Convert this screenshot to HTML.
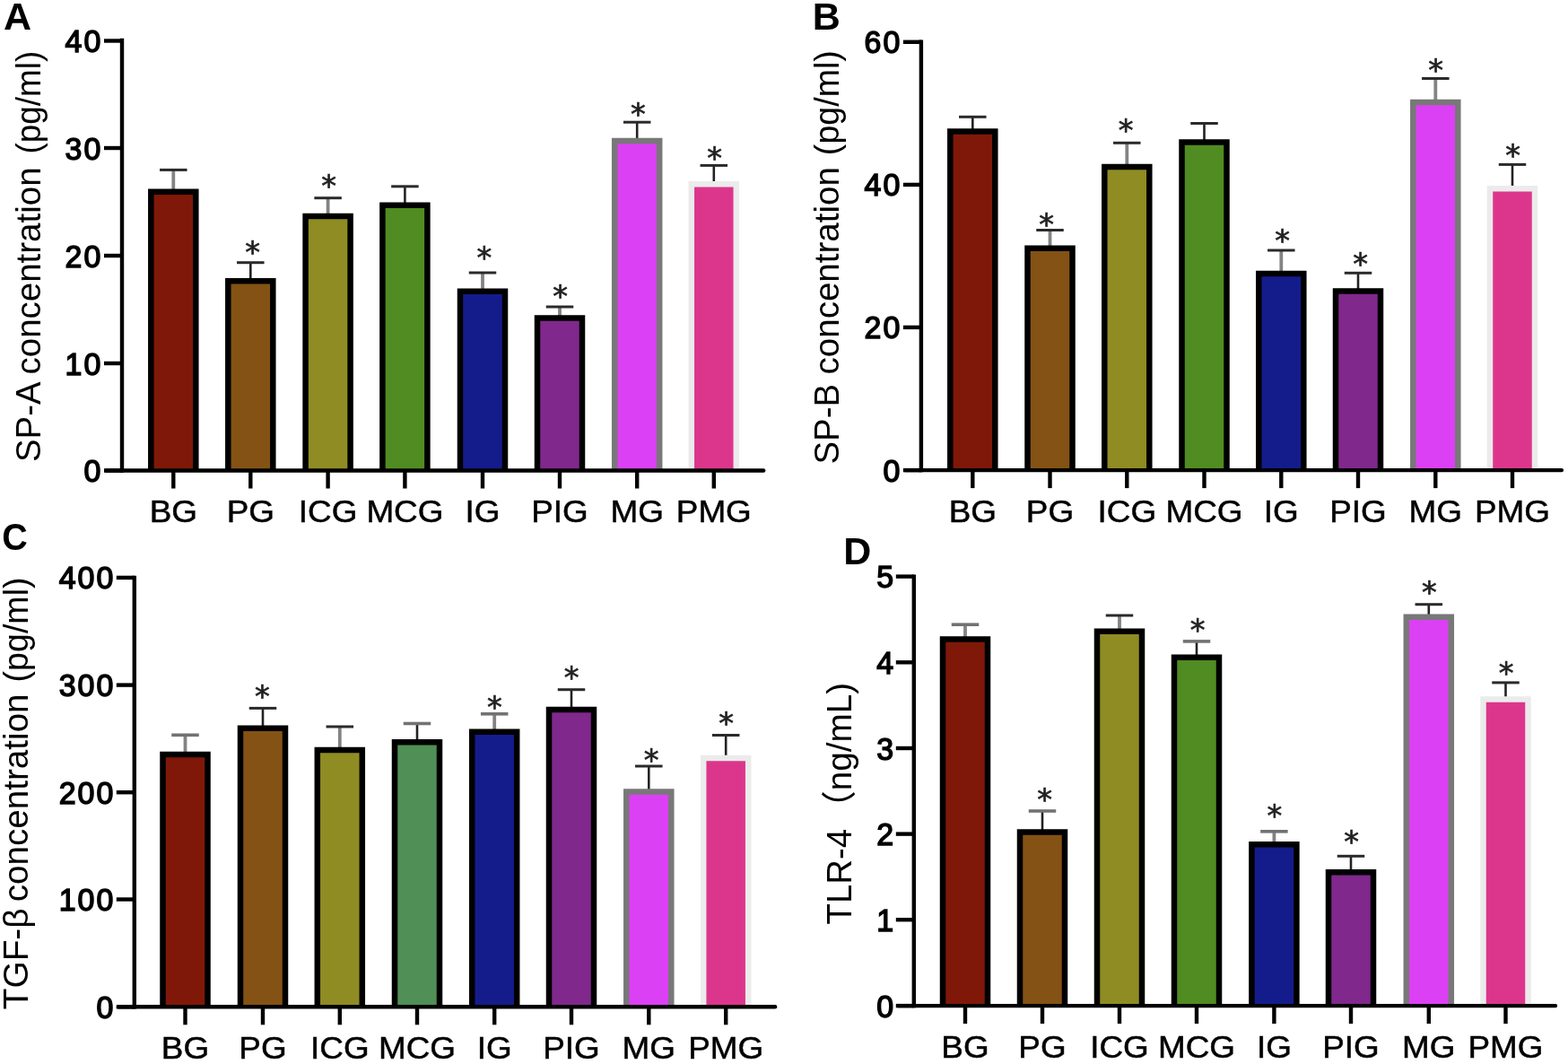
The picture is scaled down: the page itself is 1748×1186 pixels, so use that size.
<!DOCTYPE html>
<html><head><meta charset="utf-8"><title>Figure</title>
<style>
html,body{margin:0;padding:0;background:#fff;}
svg{display:block;}
#fig{width:1748px;height:1186px;overflow:hidden;}
text{font-family:"Liberation Sans",Arial,Helvetica,"Noto Sans CJK SC",sans-serif;}
.tl{font-size:35px;font-weight:normal;letter-spacing:2px;text-anchor:end;fill:#000;stroke:#000;stroke-width:1.5px;}
.xl{font-size:36px;text-anchor:middle;fill:#000;stroke:#000;stroke-width:0.5px;}
.yl{font-size:39px;fill:#000;}
.lt{font-size:43px;font-weight:bold;fill:#000;}
.st{font-size:33.5px;text-anchor:middle;fill:#222;stroke:#222;stroke-width:0.7px;font-family:"DejaVu Sans",sans-serif;}
</style></head>
<body>
<div id="fig">
<svg width="1748" height="1186" viewBox="0 0 1748 1186">
<g>
<rect width="1748" height="1186" fill="#fff"/>
<line x1="193.3" y1="212.4" x2="193.3" y2="189.4" stroke="#838383" stroke-width="3.8"/>
<line x1="178.05" y1="189.4" x2="208.55" y2="189.4" stroke="#2a2a2a" stroke-width="3"/>
<rect x="168.3" y="213.65" width="50" height="310.85" fill="#7f1808"/>
<path d="M168.3 524.5V213.65H218.3V524.5" fill="none" stroke="#000" stroke-width="6.5"/>
<line x1="279.3" y1="312.1" x2="279.3" y2="292.7" stroke="#222" stroke-width="2.6"/>
<line x1="264.05" y1="292.7" x2="294.55" y2="292.7" stroke="#2a2a2a" stroke-width="3"/>
<rect x="254.3" y="313.35" width="50" height="211.15" fill="#845214"/>
<path d="M254.3 524.5V313.35H304.3V524.5" fill="none" stroke="#000" stroke-width="6.5"/>
<text x="281.5" y="292.89" class="st">*</text>
<line x1="365.6" y1="239.8" x2="365.6" y2="220.7" stroke="#838383" stroke-width="3.8"/>
<line x1="350.35" y1="220.7" x2="380.85" y2="220.7" stroke="#2a2a2a" stroke-width="3"/>
<rect x="340.6" y="241.05" width="50" height="283.45" fill="#8f8c24"/>
<path d="M340.6 524.5V241.05H390.6V524.5" fill="none" stroke="#000" stroke-width="6.5"/>
<text x="366.5" y="218.69" class="st">*</text>
<line x1="451.4" y1="227.5" x2="451.4" y2="207.8" stroke="#222" stroke-width="2.6"/>
<line x1="436.15" y1="207.8" x2="466.65" y2="207.8" stroke="#2a2a2a" stroke-width="3"/>
<rect x="426.4" y="228.75" width="50" height="295.75" fill="#508c22"/>
<path d="M426.4 524.5V228.75H476.4V524.5" fill="none" stroke="#000" stroke-width="6.5"/>
<line x1="538" y1="323.5" x2="538" y2="304" stroke="#838383" stroke-width="3.8"/>
<line x1="522.75" y1="304" x2="553.25" y2="304" stroke="#2a2a2a" stroke-width="3"/>
<rect x="513" y="324.75" width="50" height="199.75" fill="#141c8c"/>
<path d="M513 524.5V324.75H563V524.5" fill="none" stroke="#000" stroke-width="6.5"/>
<text x="539.8" y="298.89" class="st">*</text>
<line x1="624" y1="353.3" x2="624" y2="342" stroke="#838383" stroke-width="3.8"/>
<line x1="608.75" y1="342" x2="639.25" y2="342" stroke="#2a2a2a" stroke-width="3"/>
<rect x="599" y="354.55" width="50" height="169.95" fill="#80288c"/>
<path d="M599 524.5V354.55H649V524.5" fill="none" stroke="#000" stroke-width="6.5"/>
<text x="624.5" y="342.39" class="st">*</text>
<line x1="710.2" y1="155.8" x2="710.2" y2="136.2" stroke="#222" stroke-width="2.6"/>
<line x1="694.95" y1="136.2" x2="725.45" y2="136.2" stroke="#2a2a2a" stroke-width="3"/>
<rect x="685.2" y="157.05" width="50" height="367.45" fill="#dc40f4"/>
<path d="M685.2 524.5V157.05H735.2V524.5" fill="none" stroke="#787878" stroke-width="6.5"/>
<text x="711.4" y="139.39" class="st">*</text>
<line x1="795.8" y1="204" x2="795.8" y2="184.4" stroke="#222" stroke-width="2.6"/>
<line x1="780.55" y1="184.4" x2="811.05" y2="184.4" stroke="#2a2a2a" stroke-width="3"/>
<rect x="770.8" y="205.25" width="50" height="319.25" fill="#dc368c"/>
<path d="M770.8 524.5V205.25H820.8V524.5" fill="none" stroke="#ebebeb" stroke-width="6.5"/>
<text x="796.5" y="187.69" class="st">*</text>
<line x1="136" y1="42.8" x2="136" y2="526.7" stroke="#000" stroke-width="4.4"/>
<line x1="118.2" y1="524.5" x2="851.2" y2="524.5" stroke="#000" stroke-width="4.4" stroke-linecap="round"/>
<line x1="116" y1="524.5" x2="136" y2="524.5" stroke="#000" stroke-width="4.4"/>
<text transform="translate(114.2 537) scale(0.97 1)" class="tl">0</text>
<line x1="116" y1="405" x2="136" y2="405" stroke="#000" stroke-width="4.4"/>
<text transform="translate(114.2 417.5) scale(0.97 1)" class="tl">10</text>
<line x1="116" y1="285" x2="136" y2="285" stroke="#000" stroke-width="4.4"/>
<text transform="translate(114.2 297.5) scale(0.97 1)" class="tl">20</text>
<line x1="116" y1="165" x2="136" y2="165" stroke="#000" stroke-width="4.4"/>
<text transform="translate(114.2 177.5) scale(0.97 1)" class="tl">30</text>
<line x1="116" y1="45.5" x2="136" y2="45.5" stroke="#000" stroke-width="4.4"/>
<text transform="translate(114.2 58) scale(0.97 1)" class="tl">40</text>
<line x1="193.3" y1="524.5" x2="193.3" y2="544.5" stroke="#000" stroke-width="4.4"/>
<text transform="translate(193.3 582) scale(1.025 1)" class="xl">BG</text>
<line x1="279.3" y1="524.5" x2="279.3" y2="544.5" stroke="#000" stroke-width="4.4"/>
<text transform="translate(279.3 582) scale(1.025 1)" class="xl">PG</text>
<line x1="365.6" y1="524.5" x2="365.6" y2="544.5" stroke="#000" stroke-width="4.4"/>
<text transform="translate(365.6 582) scale(1.025 1)" class="xl">ICG</text>
<line x1="451.4" y1="524.5" x2="451.4" y2="544.5" stroke="#000" stroke-width="4.4"/>
<text transform="translate(451.4 582) scale(1.025 1)" class="xl">MCG</text>
<line x1="538" y1="524.5" x2="538" y2="544.5" stroke="#000" stroke-width="4.4"/>
<text transform="translate(538 582) scale(1.025 1)" class="xl">IG</text>
<line x1="624" y1="524.5" x2="624" y2="544.5" stroke="#000" stroke-width="4.4"/>
<text transform="translate(624 582) scale(1.025 1)" class="xl">PIG</text>
<line x1="710.2" y1="524.5" x2="710.2" y2="544.5" stroke="#000" stroke-width="4.4"/>
<text transform="translate(710.2 582) scale(1.025 1)" class="xl">MG</text>
<line x1="795.8" y1="524.5" x2="795.8" y2="544.5" stroke="#000" stroke-width="4.4"/>
<text transform="translate(795.8 582) scale(1.025 1)" class="xl">PMG</text>
<text transform="translate(44.6 514.97) rotate(-90) scale(0.9831 1)" class="yl">SP-A</text>
<text transform="translate(44.6 417.47) rotate(-90) scale(0.9870 1)" class="yl">concentration</text>
<text transform="translate(44.6 171.59) rotate(-90) scale(0.9462 1)" class="yl">(pg/ml)</text>
<text transform="translate(4 33) scale(1 1)" class="lt">A</text>
<line x1="1084.3" y1="145.2" x2="1084.3" y2="130.3" stroke="#222" stroke-width="2.6"/>
<line x1="1069.05" y1="130.3" x2="1099.55" y2="130.3" stroke="#2a2a2a" stroke-width="3"/>
<rect x="1059.3" y="146.45" width="50" height="377.65" fill="#7f1808"/>
<path d="M1059.3 524.1V146.45H1109.3V524.1" fill="none" stroke="#000" stroke-width="6.5"/>
<line x1="1170.5" y1="275.4" x2="1170.5" y2="256.5" stroke="#838383" stroke-width="3.8"/>
<line x1="1155.25" y1="256.5" x2="1185.75" y2="256.5" stroke="#2a2a2a" stroke-width="3"/>
<rect x="1145.5" y="276.65" width="50" height="247.45" fill="#845214"/>
<path d="M1145.5 524.1V276.65H1195.5V524.1" fill="none" stroke="#000" stroke-width="6.5"/>
<text x="1166.5" y="262.09" class="st">*</text>
<line x1="1256.3" y1="184.8" x2="1256.3" y2="159.3" stroke="#838383" stroke-width="3.8"/>
<line x1="1241.05" y1="159.3" x2="1271.55" y2="159.3" stroke="#2a2a2a" stroke-width="3"/>
<rect x="1231.3" y="186.05" width="50" height="338.05" fill="#8f8c24"/>
<path d="M1231.3 524.1V186.05H1281.3V524.1" fill="none" stroke="#000" stroke-width="6.5"/>
<text x="1255" y="157.09" class="st">*</text>
<line x1="1342.5" y1="157.2" x2="1342.5" y2="137.5" stroke="#222" stroke-width="2.6"/>
<line x1="1327.25" y1="137.5" x2="1357.75" y2="137.5" stroke="#2a2a2a" stroke-width="3"/>
<rect x="1317.5" y="158.45" width="50" height="365.65" fill="#508c22"/>
<path d="M1317.5 524.1V158.45H1367.5V524.1" fill="none" stroke="#000" stroke-width="6.5"/>
<line x1="1428.3" y1="303.8" x2="1428.3" y2="279" stroke="#838383" stroke-width="3.8"/>
<line x1="1413.05" y1="279" x2="1443.55" y2="279" stroke="#2a2a2a" stroke-width="3"/>
<rect x="1403.3" y="305.05" width="50" height="219.05" fill="#141c8c"/>
<path d="M1403.3 524.1V305.05H1453.3V524.1" fill="none" stroke="#000" stroke-width="6.5"/>
<text x="1429.5" y="280.09" class="st">*</text>
<line x1="1514" y1="323.2" x2="1514" y2="304.3" stroke="#222" stroke-width="2.6"/>
<line x1="1498.75" y1="304.3" x2="1529.25" y2="304.3" stroke="#2a2a2a" stroke-width="3"/>
<rect x="1489" y="324.45" width="50" height="199.65" fill="#80288c"/>
<path d="M1489 524.1V324.45H1539V524.1" fill="none" stroke="#000" stroke-width="6.5"/>
<text x="1516.6" y="306.49" class="st">*</text>
<line x1="1600.3" y1="112.8" x2="1600.3" y2="87.5" stroke="#838383" stroke-width="3.8"/>
<line x1="1585.05" y1="87.5" x2="1615.55" y2="87.5" stroke="#2a2a2a" stroke-width="3"/>
<rect x="1575.3" y="114.05" width="50" height="410.05" fill="#dc40f4"/>
<path d="M1575.3 524.1V114.05H1625.3V524.1" fill="none" stroke="#787878" stroke-width="6.5"/>
<text x="1600.5" y="89.89" class="st">*</text>
<line x1="1686" y1="209" x2="1686" y2="183.4" stroke="#222" stroke-width="2.6"/>
<line x1="1670.75" y1="183.4" x2="1701.25" y2="183.4" stroke="#2a2a2a" stroke-width="3"/>
<rect x="1661" y="210.25" width="50" height="313.85" fill="#dc368c"/>
<path d="M1661 524.1V210.25H1711V524.1" fill="none" stroke="#ebebeb" stroke-width="6.5"/>
<text x="1686.5" y="185.39" class="st">*</text>
<line x1="1026.9" y1="44.6" x2="1026.9" y2="526.3" stroke="#000" stroke-width="4.4"/>
<line x1="1009.1" y1="524.1" x2="1740.9" y2="524.1" stroke="#000" stroke-width="4.4" stroke-linecap="round"/>
<line x1="1006.9" y1="524.1" x2="1026.9" y2="524.1" stroke="#000" stroke-width="4.4"/>
<text transform="translate(1005.2 536.6) scale(0.97 1)" class="tl">0</text>
<line x1="1006.9" y1="364.9" x2="1026.9" y2="364.9" stroke="#000" stroke-width="4.4"/>
<text transform="translate(1005.2 377.4) scale(0.97 1)" class="tl">20</text>
<line x1="1006.9" y1="205.9" x2="1026.9" y2="205.9" stroke="#000" stroke-width="4.4"/>
<text transform="translate(1005.2 218.4) scale(0.97 1)" class="tl">40</text>
<line x1="1006.9" y1="46.8" x2="1026.9" y2="46.8" stroke="#000" stroke-width="4.4"/>
<text transform="translate(1005.2 59.3) scale(0.97 1)" class="tl">60</text>
<line x1="1084.3" y1="524.1" x2="1084.3" y2="544.1" stroke="#000" stroke-width="4.4"/>
<text transform="translate(1084.3 581.6) scale(1.025 1)" class="xl">BG</text>
<line x1="1170.5" y1="524.1" x2="1170.5" y2="544.1" stroke="#000" stroke-width="4.4"/>
<text transform="translate(1170.5 581.6) scale(1.025 1)" class="xl">PG</text>
<line x1="1256.3" y1="524.1" x2="1256.3" y2="544.1" stroke="#000" stroke-width="4.4"/>
<text transform="translate(1256.3 581.6) scale(1.025 1)" class="xl">ICG</text>
<line x1="1342.5" y1="524.1" x2="1342.5" y2="544.1" stroke="#000" stroke-width="4.4"/>
<text transform="translate(1342.5 581.6) scale(1.025 1)" class="xl">MCG</text>
<line x1="1428.3" y1="524.1" x2="1428.3" y2="544.1" stroke="#000" stroke-width="4.4"/>
<text transform="translate(1428.3 581.6) scale(1.025 1)" class="xl">IG</text>
<line x1="1514" y1="524.1" x2="1514" y2="544.1" stroke="#000" stroke-width="4.4"/>
<text transform="translate(1514 581.6) scale(1.025 1)" class="xl">PIG</text>
<line x1="1600.3" y1="524.1" x2="1600.3" y2="544.1" stroke="#000" stroke-width="4.4"/>
<text transform="translate(1600.3 581.6) scale(1.025 1)" class="xl">MG</text>
<line x1="1686" y1="524.1" x2="1686" y2="544.1" stroke="#000" stroke-width="4.4"/>
<text transform="translate(1686 581.6) scale(1.025 1)" class="xl">PMG</text>
<text transform="translate(935.2 517.47) rotate(-90) scale(0.9839 1)" class="yl">SP-B</text>
<text transform="translate(935.2 417.48) rotate(-90) scale(0.9887 1)" class="yl">concentration</text>
<text transform="translate(935.2 173.13) rotate(-90) scale(0.9641 1)" class="yl">(pg/ml)</text>
<text transform="translate(905.7 32.6) scale(1 1)" class="lt">B</text>
<line x1="206.5" y1="839.8" x2="206.5" y2="819.3" stroke="#838383" stroke-width="3.8"/>
<line x1="191.25" y1="819.3" x2="221.75" y2="819.3" stroke="#727272" stroke-width="3.6"/>
<rect x="181.5" y="841.05" width="50" height="281.25" fill="#7f1808"/>
<path d="M181.5 1122.3V841.05H231.5V1122.3" fill="none" stroke="#000" stroke-width="6.5"/>
<line x1="293" y1="810.5" x2="293" y2="789.4" stroke="#222" stroke-width="2.6"/>
<line x1="277.75" y1="789.4" x2="308.25" y2="789.4" stroke="#2a2a2a" stroke-width="3"/>
<rect x="268" y="811.75" width="50" height="310.55" fill="#845214"/>
<path d="M268 1122.3V811.75H318V1122.3" fill="none" stroke="#000" stroke-width="6.5"/>
<text x="292.3" y="787.69" class="st">*</text>
<line x1="378.8" y1="834.8" x2="378.8" y2="810" stroke="#838383" stroke-width="3.8"/>
<line x1="363.55" y1="810" x2="394.05" y2="810" stroke="#2a2a2a" stroke-width="3"/>
<rect x="353.8" y="836.05" width="50" height="286.25" fill="#8f8c24"/>
<path d="M353.8 1122.3V836.05H403.8V1122.3" fill="none" stroke="#000" stroke-width="6.5"/>
<line x1="465" y1="826" x2="465" y2="806.5" stroke="#222" stroke-width="2.6"/>
<line x1="449.75" y1="806.5" x2="480.25" y2="806.5" stroke="#727272" stroke-width="3.6"/>
<rect x="440" y="827.25" width="50" height="295.05" fill="#508f55"/>
<path d="M440 1122.3V827.25H490V1122.3" fill="none" stroke="#000" stroke-width="6.5"/>
<line x1="551.2" y1="814.5" x2="551.2" y2="795.8" stroke="#838383" stroke-width="3.8"/>
<line x1="535.95" y1="795.8" x2="566.45" y2="795.8" stroke="#727272" stroke-width="3.6"/>
<rect x="526.2" y="815.75" width="50" height="306.55" fill="#141c8c"/>
<path d="M526.2 1122.3V815.75H576.2V1122.3" fill="none" stroke="#000" stroke-width="6.5"/>
<text x="551.3" y="799.89" class="st">*</text>
<line x1="637" y1="789.7" x2="637" y2="768.7" stroke="#222" stroke-width="2.6"/>
<line x1="621.75" y1="768.7" x2="652.25" y2="768.7" stroke="#2a2a2a" stroke-width="3"/>
<rect x="612" y="790.95" width="50" height="331.35" fill="#80288c"/>
<path d="M612 1122.3V790.95H662V1122.3" fill="none" stroke="#000" stroke-width="6.5"/>
<text x="637" y="767.39" class="st">*</text>
<line x1="723.3" y1="881.2" x2="723.3" y2="854" stroke="#222" stroke-width="2.6"/>
<line x1="708.05" y1="854" x2="738.55" y2="854" stroke="#2a2a2a" stroke-width="3"/>
<rect x="698.3" y="882.45" width="50" height="239.85" fill="#dc40f4"/>
<path d="M698.3 1122.3V882.45H748.3V1122.3" fill="none" stroke="#787878" stroke-width="6.5"/>
<text x="726" y="859.09" class="st">*</text>
<line x1="809.2" y1="843.7" x2="809.2" y2="819.5" stroke="#222" stroke-width="2.6"/>
<line x1="793.95" y1="819.5" x2="824.45" y2="819.5" stroke="#2a2a2a" stroke-width="3"/>
<rect x="784.2" y="844.95" width="50" height="277.35" fill="#dc368c"/>
<path d="M784.2 1122.3V844.95H834.2V1122.3" fill="none" stroke="#ebebeb" stroke-width="6.5"/>
<text x="809.5" y="817.89" class="st">*</text>
<line x1="149.8" y1="641.7" x2="149.8" y2="1124.5" stroke="#000" stroke-width="4.4"/>
<line x1="132" y1="1122.3" x2="864.1" y2="1122.3" stroke="#000" stroke-width="4.4" stroke-linecap="round"/>
<line x1="129.8" y1="1122.3" x2="149.8" y2="1122.3" stroke="#000" stroke-width="4.4"/>
<text transform="translate(128.2 1134.8) scale(0.97 1)" class="tl">0</text>
<line x1="129.8" y1="1002.5" x2="149.8" y2="1002.5" stroke="#000" stroke-width="4.4"/>
<text transform="translate(128.2 1015) scale(0.97 1)" class="tl">100</text>
<line x1="129.8" y1="883.2" x2="149.8" y2="883.2" stroke="#000" stroke-width="4.4"/>
<text transform="translate(128.2 895.7) scale(0.97 1)" class="tl">200</text>
<line x1="129.8" y1="763.6" x2="149.8" y2="763.6" stroke="#000" stroke-width="4.4"/>
<text transform="translate(128.2 776.1) scale(0.97 1)" class="tl">300</text>
<line x1="129.8" y1="643.9" x2="149.8" y2="643.9" stroke="#000" stroke-width="4.4"/>
<text transform="translate(128.2 656.4) scale(0.97 1)" class="tl">400</text>
<line x1="206.5" y1="1122.3" x2="206.5" y2="1142.3" stroke="#000" stroke-width="4.4"/>
<text transform="translate(206.5 1179.8) scale(1.025 1)" class="xl">BG</text>
<line x1="293" y1="1122.3" x2="293" y2="1142.3" stroke="#000" stroke-width="4.4"/>
<text transform="translate(293 1179.8) scale(1.025 1)" class="xl">PG</text>
<line x1="378.8" y1="1122.3" x2="378.8" y2="1142.3" stroke="#000" stroke-width="4.4"/>
<text transform="translate(378.8 1179.8) scale(1.025 1)" class="xl">ICG</text>
<line x1="465" y1="1122.3" x2="465" y2="1142.3" stroke="#000" stroke-width="4.4"/>
<text transform="translate(465 1179.8) scale(1.025 1)" class="xl">MCG</text>
<line x1="551.2" y1="1122.3" x2="551.2" y2="1142.3" stroke="#000" stroke-width="4.4"/>
<text transform="translate(551.2 1179.8) scale(1.025 1)" class="xl">IG</text>
<line x1="637" y1="1122.3" x2="637" y2="1142.3" stroke="#000" stroke-width="4.4"/>
<text transform="translate(637 1179.8) scale(1.025 1)" class="xl">PIG</text>
<line x1="723.3" y1="1122.3" x2="723.3" y2="1142.3" stroke="#000" stroke-width="4.4"/>
<text transform="translate(723.3 1179.8) scale(1.025 1)" class="xl">MG</text>
<line x1="809.2" y1="1122.3" x2="809.2" y2="1142.3" stroke="#000" stroke-width="4.4"/>
<text transform="translate(809.2 1179.8) scale(1.025 1)" class="xl">PMG</text>
<text transform="translate(31.2 1125.19) rotate(-90) scale(0.9946 1)" class="yl">TGF-β</text>
<text transform="translate(31.2 1005.18) rotate(-90) scale(0.9900 1)" class="yl">concentration</text>
<text transform="translate(31.2 760.43) rotate(-90) scale(0.9641 1)" class="yl">(pg/ml)</text>
<text transform="translate(2.3 612.6) scale(0.92 1)" class="lt">C</text>
<line x1="1076" y1="711.3" x2="1076" y2="696.2" stroke="#838383" stroke-width="3.8"/>
<line x1="1060.75" y1="696.2" x2="1091.25" y2="696.2" stroke="#727272" stroke-width="3.6"/>
<rect x="1051" y="712.55" width="50" height="408.55" fill="#7f1808"/>
<path d="M1051 1121.1V712.55H1101V1121.1" fill="none" stroke="#000" stroke-width="6.5"/>
<line x1="1162" y1="926.3" x2="1162" y2="904" stroke="#222" stroke-width="2.6"/>
<line x1="1146.75" y1="904" x2="1177.25" y2="904" stroke="#727272" stroke-width="3.6"/>
<rect x="1137" y="927.55" width="50" height="193.55" fill="#845214"/>
<path d="M1137 1121.1V927.55H1187V1121.1" fill="none" stroke="#000" stroke-width="6.5"/>
<text x="1164.5" y="903.09" class="st">*</text>
<line x1="1248" y1="702.5" x2="1248" y2="686" stroke="#838383" stroke-width="3.8"/>
<line x1="1232.75" y1="686" x2="1263.25" y2="686" stroke="#2a2a2a" stroke-width="3"/>
<rect x="1223" y="703.75" width="50" height="417.35" fill="#8f8c24"/>
<path d="M1223 1121.1V703.75H1273V1121.1" fill="none" stroke="#000" stroke-width="6.5"/>
<line x1="1334" y1="731.5" x2="1334" y2="714.9" stroke="#222" stroke-width="2.6"/>
<line x1="1318.75" y1="714.9" x2="1349.25" y2="714.9" stroke="#727272" stroke-width="3.6"/>
<rect x="1309" y="732.75" width="50" height="388.35" fill="#508c22"/>
<path d="M1309 1121.1V732.75H1359V1121.1" fill="none" stroke="#000" stroke-width="6.5"/>
<text x="1335" y="713.79" class="st">*</text>
<line x1="1420.4" y1="940" x2="1420.4" y2="926.8" stroke="#838383" stroke-width="3.8"/>
<line x1="1405.15" y1="926.8" x2="1435.65" y2="926.8" stroke="#727272" stroke-width="3.6"/>
<rect x="1395.4" y="941.25" width="50" height="179.85" fill="#141c8c"/>
<path d="M1395.4 1121.1V941.25H1445.4V1121.1" fill="none" stroke="#000" stroke-width="6.5"/>
<text x="1420.8" y="920.69" class="st">*</text>
<line x1="1506" y1="971" x2="1506" y2="954.3" stroke="#222" stroke-width="2.6"/>
<line x1="1490.75" y1="954.3" x2="1521.25" y2="954.3" stroke="#2a2a2a" stroke-width="3"/>
<rect x="1481" y="972.25" width="50" height="148.85" fill="#80288c"/>
<path d="M1481 1121.1V972.25H1531V1121.1" fill="none" stroke="#000" stroke-width="6.5"/>
<text x="1506.5" y="949.79" class="st">*</text>
<line x1="1592.8" y1="686.5" x2="1592.8" y2="673.7" stroke="#222" stroke-width="2.6"/>
<line x1="1577.55" y1="673.7" x2="1608.05" y2="673.7" stroke="#2a2a2a" stroke-width="3"/>
<rect x="1567.8" y="687.75" width="50" height="433.35" fill="#dc40f4"/>
<path d="M1567.8 1121.1V687.75H1617.8V1121.1" fill="none" stroke="#787878" stroke-width="6.5"/>
<text x="1593.3" y="672.19" class="st">*</text>
<line x1="1678.5" y1="778.2" x2="1678.5" y2="760.9" stroke="#222" stroke-width="2.6"/>
<line x1="1663.25" y1="760.9" x2="1693.75" y2="760.9" stroke="#2a2a2a" stroke-width="3"/>
<rect x="1653.5" y="779.45" width="50" height="341.65" fill="#dc368c"/>
<path d="M1653.5 1121.1V779.45H1703.5V1121.1" fill="none" stroke="#ebebeb" stroke-width="6.5"/>
<text x="1679" y="762.29" class="st">*</text>
<line x1="1018.8" y1="640.4" x2="1018.8" y2="1123.3" stroke="#000" stroke-width="4.4"/>
<line x1="1001" y1="1121.1" x2="1734" y2="1121.1" stroke="#000" stroke-width="4.4" stroke-linecap="round"/>
<line x1="998.8" y1="1121.1" x2="1018.8" y2="1121.1" stroke="#000" stroke-width="4.4"/>
<text transform="translate(998 1133.6) scale(0.97 1)" class="tl">0</text>
<line x1="998.8" y1="1025.2" x2="1018.8" y2="1025.2" stroke="#000" stroke-width="4.4"/>
<text transform="translate(998 1037.7) scale(0.97 1)" class="tl">1</text>
<line x1="998.8" y1="929.6" x2="1018.8" y2="929.6" stroke="#000" stroke-width="4.4"/>
<text transform="translate(998 942.1) scale(0.97 1)" class="tl">2</text>
<line x1="998.8" y1="834" x2="1018.8" y2="834" stroke="#000" stroke-width="4.4"/>
<text transform="translate(998 846.5) scale(0.97 1)" class="tl">3</text>
<line x1="998.8" y1="738.3" x2="1018.8" y2="738.3" stroke="#000" stroke-width="4.4"/>
<text transform="translate(998 750.8) scale(0.97 1)" class="tl">4</text>
<line x1="998.8" y1="642.6" x2="1018.8" y2="642.6" stroke="#000" stroke-width="4.4"/>
<text transform="translate(998 655.1) scale(0.97 1)" class="tl">5</text>
<line x1="1076" y1="1121.1" x2="1076" y2="1141.1" stroke="#000" stroke-width="4.4"/>
<text transform="translate(1076 1178.6) scale(1.025 1)" class="xl">BG</text>
<line x1="1162" y1="1121.1" x2="1162" y2="1141.1" stroke="#000" stroke-width="4.4"/>
<text transform="translate(1162 1178.6) scale(1.025 1)" class="xl">PG</text>
<line x1="1248" y1="1121.1" x2="1248" y2="1141.1" stroke="#000" stroke-width="4.4"/>
<text transform="translate(1248 1178.6) scale(1.025 1)" class="xl">ICG</text>
<line x1="1334" y1="1121.1" x2="1334" y2="1141.1" stroke="#000" stroke-width="4.4"/>
<text transform="translate(1334 1178.6) scale(1.025 1)" class="xl">MCG</text>
<line x1="1420.4" y1="1121.1" x2="1420.4" y2="1141.1" stroke="#000" stroke-width="4.4"/>
<text transform="translate(1420.4 1178.6) scale(1.025 1)" class="xl">IG</text>
<line x1="1506" y1="1121.1" x2="1506" y2="1141.1" stroke="#000" stroke-width="4.4"/>
<text transform="translate(1506 1178.6) scale(1.025 1)" class="xl">PIG</text>
<line x1="1592.8" y1="1121.1" x2="1592.8" y2="1141.1" stroke="#000" stroke-width="4.4"/>
<text transform="translate(1592.8 1178.6) scale(1.025 1)" class="xl">MG</text>
<line x1="1678.5" y1="1121.1" x2="1678.5" y2="1141.1" stroke="#000" stroke-width="4.4"/>
<text transform="translate(1678.5 1178.6) scale(1.025 1)" class="xl">PMG</text>
<text transform="translate(949 1030.38) rotate(-90) scale(0.9821 1)" class="yl">TLR-4</text>
<text transform="translate(949 919.97) rotate(-90) scale(0.9916 1)" class="yl">（ng/mL)</text>
<text transform="translate(940.2 628.5) scale(1 1)" class="lt">D</text>
</g>
</svg>
</div>
</body></html>
